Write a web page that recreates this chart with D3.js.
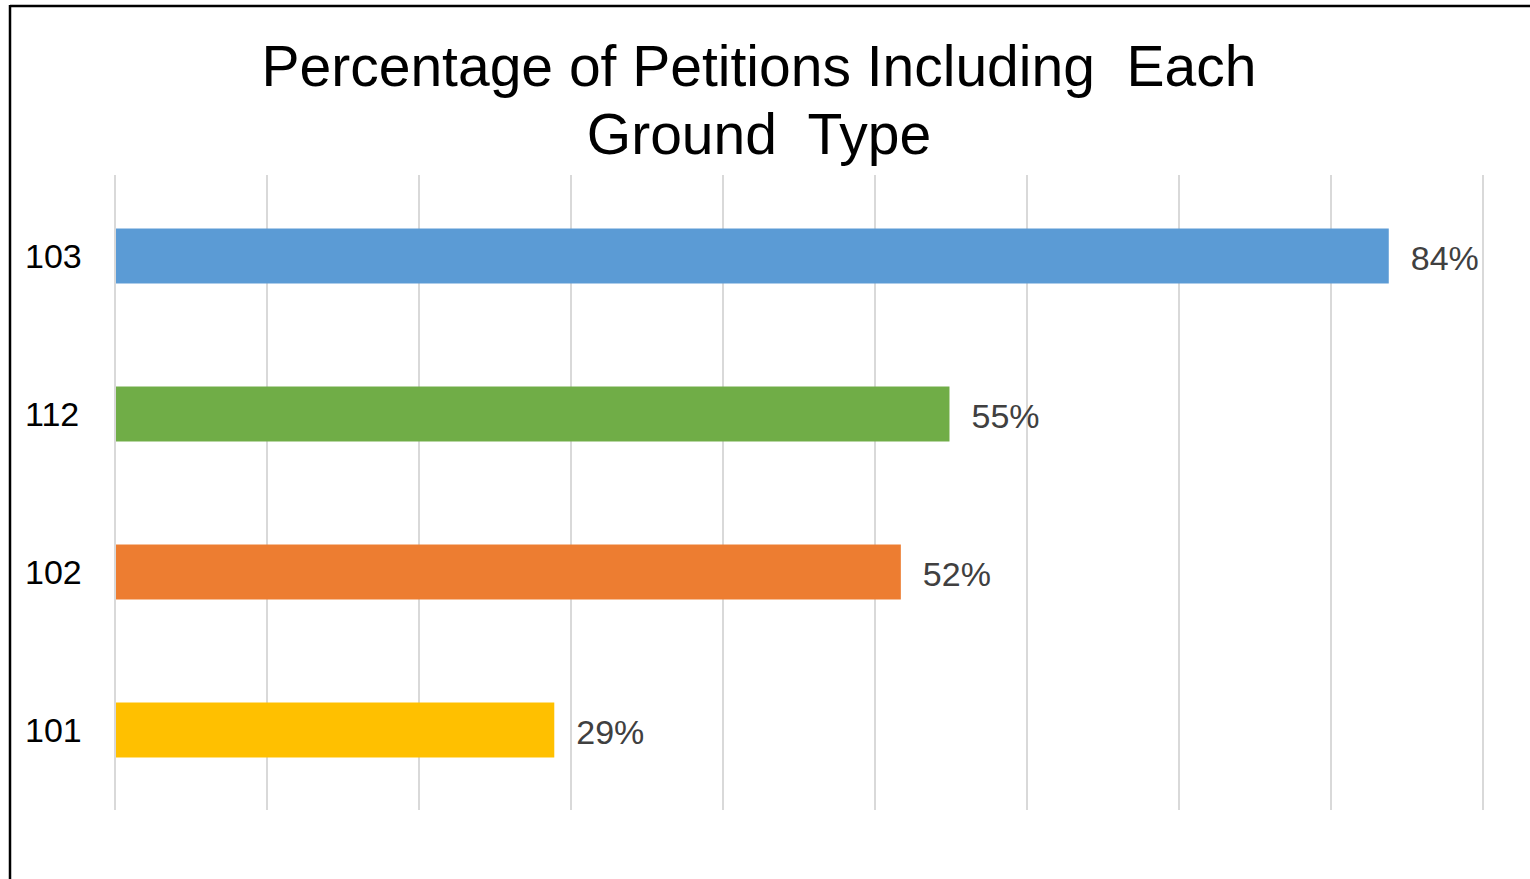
<!DOCTYPE html>
<meta charset="utf-8">
<script src="https://d3js.org/d3.v7.min.js"></script>
<style>
    body { margin: 0; background: #fff; }
    .title { font-family: 'Liberation Sans', Arial, sans-serif; font-size: 57px; fill: #000; text-anchor: middle; }
    .cat { font-family: 'Liberation Sans', Arial, sans-serif; font-size: 34px; fill: #000; }
    .val { font-family: 'Liberation Sans', Arial, sans-serif; font-size: 34px; fill: #404040; }
</style>
<div id="chart"></div>
<script>
    // data
    const categories = ["103", "112", "102", "101"];
    const values = [0.838, 0.549, 0.517, 0.289];
    const colors = ["#5b9bd5", "#70ad47", "#ed7d31", "#ffc000"];
    const gridTicks = [0, 0.1, 0.2, 0.3, 0.4, 0.5, 0.6, 0.7, 0.8, 0.9];
    const titleLines = ["Percentage of Petitions Including  Each", "Ground  Type"];

    const W = 1530, H = 879;

    let svg = d3.select("#chart").append("svg")
        .attr("width", W).attr("height", H);

    // frame (only top & left visible)
    svg.append("line").attr("x1", 10).attr("x2", W).attr("y1", 6).attr("y2", 6)
        .attr("stroke", "#000").attr("stroke-width", 2.5);
    svg.append("line").attr("x1", 10).attr("x2", 10).attr("y1", 5).attr("y2", H)
        .attr("stroke", "#000").attr("stroke-width", 2.5);

    let x = d3.scaleLinear().domain([0, 0.9]).range([115, 1483]);
    let y = d3.scaleBand().domain(categories).range([177, 809]).paddingInner(0.652).paddingOuter(0.326);

    // gridlines
    svg.selectAll(".grid")
        .data(gridTicks)
        .enter().append("line")
        .attr("x1", d => x(d)).attr("x2", d => x(d))
        .attr("y1", 175).attr("y2", 810)
        .attr("stroke", "#d9d9d9").attr("stroke-width", 2);

    // bars
    svg.selectAll(".bar")
        .data(categories)
        .enter().append("rect")
        .attr("x", x(0) + 1)
        .attr("y", d => y(d))
        .attr("width", (d, i) => x(values[i]) - x(0) - 1)
        .attr("height", y.bandwidth())
        .attr("fill", (d, i) => colors[i]);

    // category labels
    svg.selectAll(".cat")
        .data(categories)
        .enter().append("text")
        .attr("class", "cat")
        .attr("x", 25)
        .attr("y", d => y(d) + y.bandwidth() / 2)
        .attr("dy", "0.35em")
        .text(d => d);

    // value labels
    svg.selectAll(".val")
        .data(categories)
        .enter().append("text")
        .attr("class", "val")
        .attr("x", (d, i) => x(values[i]) + 22)
        .attr("y", d => y(d) + y.bandwidth() / 2 + 2)
        .attr("dy", "0.35em")
        .text((d, i) => Math.round(values[i] * 100) + "%");

    // title
    svg.selectAll(".title")
        .data(titleLines)
        .enter().append("text")
        .attr("class", "title")
        .attr("x", 759)
        .attr("y", (d, i) => 86 + i * 68)
        .attr("xml:space", "preserve")
        .style("white-space", "pre")
        .text(d => d);
</script>
